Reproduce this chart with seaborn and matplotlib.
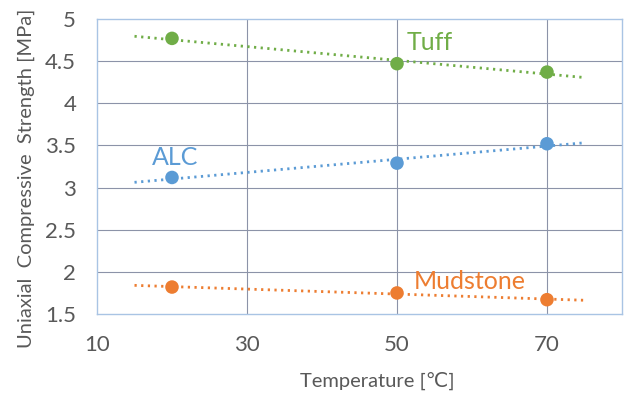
import numpy as np
import pandas as pd
import matplotlib
matplotlib.use("Agg")
import matplotlib.pyplot as plt
import seaborn as sns

# ---- data ----
temperature = [20, 50, 70]
tuff = [4.77, 4.47, 4.37]
alc = [3.12, 3.29, 3.52]
mudstone = [1.82, 1.75, 1.67]
series_names = ["Tuff", "ALC", "Mudstone"]
x_ticks = [10, 30, 50, 70]
y_ticks = [1.5, 2, 2.5, 3, 3.5, 4, 4.5, 5]
trend_range = [15, 75]

colors = {"Tuff": "#70AD47", "ALC": "#5B9BD5", "Mudstone": "#ED7D31"}
label_pos = {"Tuff": (51.3, 4.72), "ALC": (17.3, 3.36), "Mudstone": (52.2, 1.88)}

sns.set_theme(style="white")
plt.rcParams["font.family"] = ["Lato", "DejaVu Sans"]

rows = []
for name, vals in zip(series_names, [tuff, alc, mudstone]):
    for t, v in zip(temperature, vals):
        rows.append({"Temperature": t, "Strength": v, "Rock": name})
df = pd.DataFrame(rows)

fig = plt.figure(figsize=(6.27, 3.94), dpi=100)
ax = fig.add_axes([0.1547, 0.203, 0.992 - 0.1547, 0.9518 - 0.203])

grid_color = "#8C93A8"
for t in x_ticks[1:]:
    ax.axvline(t, color=grid_color, lw=0.8, zorder=0)
for y in y_ticks[1:-1]:
    ax.axhline(y, color=grid_color, lw=0.8, zorder=0)

# trend lines (linear fit, extended as in Excel)
for name, vals in zip(series_names, [tuff, alc, mudstone]):
    k, b = np.polyfit(temperature, vals, 1)
    xs = np.array(trend_range, dtype=float)
    tdf = pd.DataFrame({"x": xs, "y": k * xs + b})
    sns.lineplot(data=tdf, x="x", y="y", ax=ax, color=colors[name],
                 lw=2.0, linestyle=(0, (0.8, 1.6)), zorder=2)

sns.scatterplot(data=df, x="Temperature", y="Strength", hue="Rock",
                palette=colors, s=95, edgecolor="none", ax=ax, zorder=3,
                legend=False)

for name in series_names:
    x, y = label_pos[name]
    ax.text(x, y, name, color=colors[name], fontsize=18, ha="left", va="center")

ax.set_xlim(10, 80)
ax.set_ylim(1.5, 5)
ax.set_xticks(x_ticks)
ax.set_yticks(y_ticks)
ax.set_yticklabels(["1.5", "2", "2.5", "3", "3.5", "4", "4.5", "5"])
ax.tick_params(axis="both", labelsize=16, labelcolor="#595959", length=0)
ax.tick_params(axis="x", pad=15)
ax.tick_params(axis="y", pad=15)

for s in ax.spines.values():
    s.set_color("#A9C4E4")
    s.set_linewidth(1.0)

ax.set_xlabel("Temperature [℃]", fontsize=14.5, color="#595959")
ax.set_ylabel("Uniaxial  Compressive  Strength [MPa]", fontsize=14.5, color="#595959")
ax.xaxis.set_label_coords(0.533, -0.195)
ax.yaxis.set_label_coords(-0.118, 0.46)

fig.savefig("out.png", dpi=100)
